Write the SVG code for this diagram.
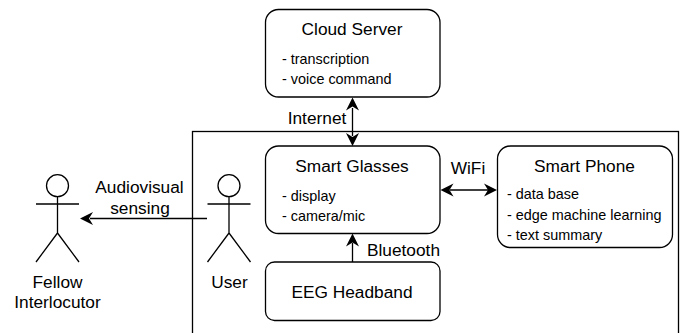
<svg xmlns="http://www.w3.org/2000/svg" width="682" height="333" viewBox="0 0 682 333">
<style>
text{font-family:"Liberation Sans",Arial,sans-serif;fill:#000}
.t{font-size:17.3px;text-anchor:middle}
.s{font-size:14.4px}
.b{fill:#fff;stroke:#000;stroke-width:1.3}
.l{fill:none;stroke:#000;stroke-width:1.3}
.c{fill:none;stroke:#000;stroke-width:1.3}
</style>
<defs>
<path id="ah" d="M0 0L-13 -6.500L-9 0L-13 6.500Z" fill="#000"/>
</defs>
<rect id="container" class="l" x="192.500" y="131.500" width="486" height="210"/>
<g id="cloud"><rect class="b" x="265.500" y="9.500" width="174.500" height="87.500" rx="13"/><text class="t" x="352" y="35">Cloud Server</text><text class="s" x="282" y="64">- transcription</text><text class="s" x="282" y="84">- voice command</text></g>
<g id="glasses"><rect class="b" x="265.500" y="146" width="174.500" height="87.500" rx="13"/><text class="t" x="352" y="172">Smart Glasses</text><text class="s" x="282" y="201">- display</text><text class="s" x="282" y="221">- camera/mic</text></g>
<g id="phone"><rect class="b" x="497.500" y="146" width="175" height="101.500" rx="13"/><text class="t" x="584.500" y="172">Smart Phone</text><text class="s" x="507" y="199">- data base</text><text class="s" x="507" y="220">- edge machine learning</text><text class="s" x="507" y="240">- text summary</text></g>
<g id="eeg"><rect class="b" x="265.500" y="262" width="174.500" height="58.500" rx="9"/><text class="t" x="352" y="298">EEG Headband</text></g>
<g id="fellow"><circle class="l" cx="57.500" cy="185.700" r="11"/><path class="l" d="M57.500 196.700V233M36 204H79M57.500 233L36 262M57.500 233L79 262"/><text class="t" x="57.500" y="288">Fellow</text><text class="t" x="57.500" y="308">Interlocutor</text></g>
<g id="user"><circle class="l" cx="229" cy="185.700" r="11"/><path class="l" d="M229 196.700V233M207.500 204H250.500M229 233L207.500 262M229 233L250.500 262"/><text class="t" x="229.500" y="288">User</text></g>
<g id="connectors">
<path class="c" d="M352.500 108V136"/><use href="#ah" transform="translate(352.500 97.500) rotate(-90)"/><use href="#ah" transform="translate(352.500 146) rotate(90)"/>
<path class="c" d="M450 190H488"/><use href="#ah" transform="translate(440.500 190) rotate(180)"/><use href="#ah" transform="translate(497 190)"/>
<path class="c" d="M352.500 262V243"/><use href="#ah" transform="translate(352.500 233.500) rotate(-90)"/>
<path class="c" d="M207 218.500H90"/><use href="#ah" transform="translate(80 218.500) rotate(180)"/>
<text class="t" x="317" y="124">Internet</text>
<text class="t" x="468" y="174">WiFi</text>
<text class="t" x="403.500" y="256">Bluetooth</text>
<text class="t" x="139.500" y="193">Audiovisual</text>
<text class="t" x="140" y="214">sensing</text>
</g>
</svg>
